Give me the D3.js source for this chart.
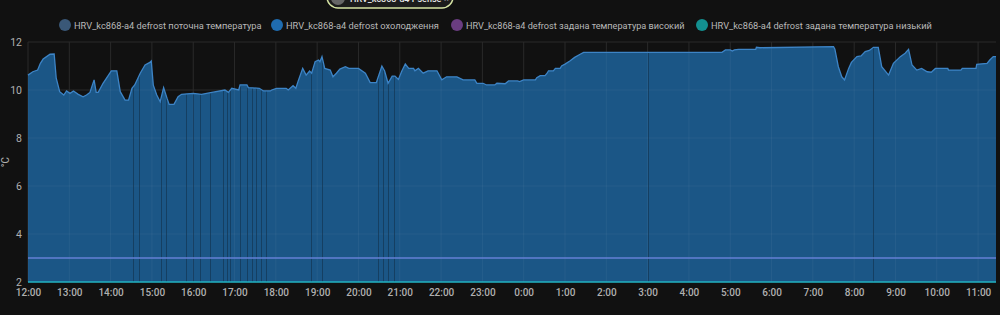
<!DOCTYPE html>
<html>
<head>
<meta charset="utf-8">
<script src="https://cdn.jsdelivr.net/npm/d3@7"></script>
<style>
  html, body { margin: 0; padding: 0; background: #111111; }
  svg { display: block; font-family: Roboto, "Noto Sans", sans-serif; }
</style>
</head>
<body>
<div id="chart"></div>
<script>
// Legend entries
const seriesNames = [
    "HRV_kc868-a4 defrost поточна температура",
    "HRV_kc868-a4 defrost охолодження",
    "HRV_kc868-a4 defrost задана температура високий",
    "HRV_kc868-a4 defrost задана температура низький"
];
const seriesColors = ["#3a5878", "#1f6cb0", "#6a3d80", "#138f8f"];

// Temperature readings (clock time, °C) from 12:00 to 11:26 next day
const times = [
    "12:00","12:07","12:14","12:18","12:22","12:27","12:32","12:38","12:41","12:46","12:52","12:56",
    "13:01","13:06","13:13","13:20","13:25","13:30","13:36","13:39","13:42","13:49",
    "14:01","14:09","14:14","14:21","14:26","14:31","14:35","14:43","14:50","14:57","14:59",
    "15:02","15:07","15:12","15:17","15:22","15:25","15:32","15:38","15:43",
    "16:00","16:12","16:27","16:46","16:51","16:56",
    "17:06","17:08","17:18","17:20","17:36","17:42","17:52","17:54",
    "18:01","18:15","18:18","18:25","18:29","18:33","18:39","18:44","18:49","18:52","18:57",
    "19:02","19:04","19:07","19:11","19:19","19:23","19:28","19:33","19:41","19:46",
    "20:00","20:10","20:17","20:26","20:34","20:38","20:43","20:49","20:53","20:58",
    "21:03","21:08","21:13","21:20","21:22","21:27","21:34","21:41","21:54",
    "22:01","22:08","22:23","22:32","22:49","22:52",
    "23:01","23:06","23:18","23:21","23:33","23:38","23:51","23:54",
    "0:00","0:17","0:19","0:24","0:31","0:34","0:36","0:43","0:46","0:53","0:55",
    "1:00","1:07","1:14","1:22","1:27",
    "4:48","4:53","5:00","5:03","5:06","5:12","5:37","5:38","5:43",
    "7:30","7:32","7:37","7:42","7:46","7:52","7:56",
    "8:04","8:10","8:16","8:22","8:28","8:35","8:40","8:50","8:57",
    "9:07","9:14","9:19","9:24","9:31","9:38","9:46","9:52","9:58",
    "10:16","10:17","10:35","10:37","10:57","10:58",
    "11:13","11:17","11:22","11:26"
];
const temps = [
    10.62,10.76,10.83,11.11,11.29,11.39,11.49,11.50,10.49,9.93,9.79,9.96,
    9.86,9.96,9.82,9.72,9.79,9.90,10.42,9.90,9.90,10.28,
    10.80,10.80,9.93,9.58,9.58,10.07,10.21,10.70,11.04,11.15,11.21,
    10.20,9.79,9.51,10.10,9.65,9.40,9.40,9.72,9.82,
    9.86,9.82,9.90,10.00,9.90,10.07,
    10.00,10.21,10.21,10.10,10.07,9.96,9.96,10.00,
    10.07,10.07,10.00,10.18,10.07,10.42,10.90,10.62,10.79,10.70,11.18,
    11.25,11.18,11.39,10.90,10.83,10.55,10.70,10.87,10.97,10.90,
    10.90,10.70,10.31,10.31,11.00,10.79,10.28,10.58,10.58,10.44,
    10.79,11.08,10.90,10.90,10.80,10.90,10.70,10.80,10.80,
    10.42,10.55,10.55,10.42,10.42,10.28,
    10.28,10.21,10.21,10.28,10.26,10.38,10.38,10.35,
    10.42,10.42,10.51,10.60,10.60,10.70,10.80,10.80,10.90,10.90,11.00,
    11.08,11.21,11.36,11.49,11.57,
    11.57,11.67,11.67,11.62,11.67,11.69,11.69,11.78,11.76,
    11.81,11.70,10.97,10.55,10.42,10.90,11.15,
    11.39,11.42,11.60,11.65,11.78,11.78,10.97,10.62,11.11,
    11.39,11.53,11.69,11.04,10.83,10.90,10.76,10.74,10.90,
    10.90,10.83,10.83,10.90,10.90,11.07,
    11.11,11.25,11.39,11.39
];

// Moments where the cooling flag toggled (drawn as dark stripes)
const cutTimes = [
    "14:33","14:41","15:13","15:20","15:50","16:00","16:10","16:25","16:43","16:49","16:53",
    "17:08","17:18","17:25","17:31","17:38","17:46","18:51","19:07",
    "20:28","20:36","20:43","20:52","3:01","8:28"
];

// Setpoints
const setHigh = 3;
const setLow = 2;

const yTicks = [2, 4, 6, 8, 10, 12];

const width = 1000;
const height = 315;
const margin = { top: 42, right: 4, bottom: 33, left: 28 };

// Clock string -> Date (times before noon belong to the next day)
function toDate(s) {
    const [h, m] = s.split(":").map(Number);
    const day = h < 12 ? 2 : 1;
    return new Date(2024, 0, day, h, m);
}

const data = times.map((t, i) => ({ t: toDate(t), v: temps[i] }));

const svg = d3.select("#chart")
    .append("svg")
    .attr("width", width)
    .attr("height", height);

const x = d3.scaleTime()
    .domain([toDate("12:00"), toDate("11:26")])
    .range([margin.left, width - margin.right]);

const y = d3.scaleLinear()
    .domain([2, 12])
    .range([height - margin.bottom, margin.top]);

// Horizontal grid behind the area
svg.append("g")
    .selectAll("line")
    .data(yTicks)
    .enter()
    .append("line")
    .attr("x1", margin.left)
    .attr("x2", width - margin.right)
    .attr("y1", d => y(d))
    .attr("y2", d => y(d))
    .attr("stroke", "#2a2a2a")
    .attr("stroke-width", 1);

const hourTicks = d3.timeHour.range(toDate("12:00"), toDate("11:26"));

svg.append("g")
    .selectAll("line")
    .data(hourTicks)
    .enter()
    .append("line")
    .attr("x1", d => x(d))
    .attr("x2", d => x(d))
    .attr("y1", margin.top)
    .attr("y2", height - margin.bottom)
    .attr("stroke", "#2a2a2a")
    .attr("stroke-width", 1);

// Filled temperature area
const area = d3.area()
    .x(d => x(d.t))
    .y0(y(2))
    .y1(d => y(d.v))
    .curve(d3.curveLinear);

const line = d3.line()
    .x(d => x(d.t))
    .y(d => y(d.v))
    .curve(d3.curveLinear);

svg.append("clipPath")
    .attr("id", "areaClip")
    .append("path")
    .attr("d", area(data));

svg.append("path")
    .datum(data)
    .attr("d", area)
    .attr("fill", "#1b5686");

// grid lines showing faintly through the fill
const overGrid = svg.append("g").attr("clip-path", "url(#areaClip)");
overGrid.selectAll(".hg")
    .data(yTicks)
    .enter()
    .append("line")
    .attr("x1", margin.left)
    .attr("x2", width - margin.right)
    .attr("y1", d => y(d))
    .attr("y2", d => y(d))
    .attr("stroke", "rgba(255,255,255,0.05)");
overGrid.selectAll(".vg")
    .data(hourTicks)
    .enter()
    .append("line")
    .attr("x1", d => x(d))
    .attr("x2", d => x(d))
    .attr("y1", margin.top)
    .attr("y2", height - margin.bottom)
    .attr("stroke", "rgba(255,255,255,0.05)");

// dark stripes
overGrid.selectAll(".cut")
    .data(cutTimes)
    .enter()
    .append("line")
    .attr("x1", d => Math.round(x(toDate(d))) + 0.5)
    .attr("x2", d => Math.round(x(toDate(d))) + 0.5)
    .attr("y1", margin.top)
    .attr("y2", height - margin.bottom)
    .attr("stroke", "#12324f")
    .attr("stroke-opacity", 0.65)
    .attr("stroke-width", 1);

svg.append("path")
    .datum(data)
    .attr("d", line)
    .attr("fill", "none")
    .attr("stroke", "#3d84c6")
    .attr("stroke-width", 1.3);

// Setpoint lines
svg.append("line")
    .attr("x1", margin.left)
    .attr("x2", width - margin.right)
    .attr("y1", y(setHigh))
    .attr("y2", y(setHigh))
    .attr("stroke", "#6480d4")
    .attr("stroke-width", 1.5);

svg.append("line")
    .attr("x1", margin.left)
    .attr("x2", width - margin.right)
    .attr("y1", y(setLow))
    .attr("y2", y(setLow))
    .attr("stroke", "#1fb0c0")
    .attr("stroke-width", 1.5);

// Axes
const yAxis = svg.append("g")
    .attr("transform", `translate(${margin.left - 6},0)`)
    .call(d3.axisLeft(y).tickValues(yTicks).tickSize(0).tickPadding(0));
yAxis.select(".domain").remove();
yAxis.selectAll("text")
    .attr("fill", "#b0b0b0")
    .attr("font-size", 10.5)
    .attr("font-family", "Roboto, sans-serif");

const xAxis = svg.append("g")
    .attr("transform", `translate(0,${height - margin.bottom})`)
    .call(d3.axisBottom(x)
        .tickValues(hourTicks)
        .tickFormat(d3.timeFormat("%-H:%M"))
        .tickSize(0)
        .tickPadding(7));
xAxis.select(".domain").remove();
xAxis.selectAll("text")
    .attr("fill", "#b0b0b0")
    .attr("font-size", 10)
    .attr("font-weight", 500)
    .attr("font-family", "Roboto, sans-serif");

// Unit label
svg.append("text")
    .attr("transform", `translate(9,${(margin.top + height - margin.bottom) / 2}) rotate(-90)`)
    .attr("text-anchor", "middle")
    .attr("font-size", 10)
    .attr("fill", "#b0b0b0")
    .text("°C");

// Legend - sized so each label spans the same width as in the source
const legendX = [65, 277, 457, 702];
const legendW = [188, 153, 219, 221];
const legend = svg.append("g");
seriesNames.forEach((name, i) => {
    legend.append("circle")
        .attr("cx", legendX[i])
        .attr("cy", 25)
        .attr("r", 6)
        .attr("fill", seriesColors[i]);
    const t = legend.append("text")
        .attr("x", legendX[i] + 9)
        .attr("y", 29)
        .attr("font-size", 11)
        .attr("fill", "#b8b8b8")
        .text(name);
    const w = t.node().getComputedTextLength();
    t.attr("font-size", 11 * legendW[i] / w);
});

// Partially hidden entity chip at the top
const chip = svg.append("g");
chip.append("rect")
    .attr("x", 327)
    .attr("y", -14)
    .attr("width", 126)
    .attr("height", 22)
    .attr("rx", 11)
    .attr("fill", "#1c1c1c")
    .attr("stroke", "#d6e4a4")
    .attr("stroke-width", 1.5);
chip.append("circle")
    .attr("cx", 338)
    .attr("cy", -2)
    .attr("r", 7)
    .attr("fill", "#666");
chip.append("text")
    .attr("x", 350)
    .attr("y", 2)
    .attr("font-size", 9)
    .attr("font-weight", 500)
    .attr("fill", "#e8e8e8")
    .text("HRV_kc868-a4 Psense");
chip.append("text")
    .attr("x", 444)
    .attr("y", 2)
    .attr("font-size", 9)
    .attr("fill", "#aaa")
    .text("×");
</script>
</body>
</html>
